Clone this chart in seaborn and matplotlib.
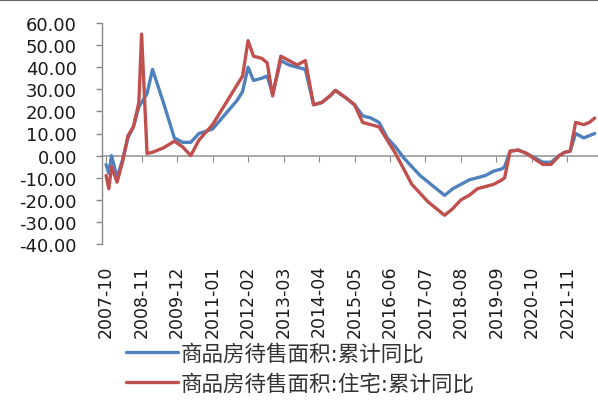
import pandas as pd
import matplotlib
matplotlib.use("Agg")
import matplotlib.pyplot as plt
from matplotlib.lines import Line2D
import seaborn as sns

# data (month, % yoy)
months = ["2007-10", "2007-11", "2007-12", "2008-02", "2008-04", "2008-06", "2008-08",
          "2008-10", "2008-11", "2009-01", "2009-03", "2009-07", "2009-11", "2010-02",
          "2010-05", "2010-08", "2011-01", "2011-10", "2011-12", "2012-02", "2012-04",
          "2012-07", "2012-09", "2012-11", "2013-02", "2013-05", "2013-08", "2013-11",
          "2014-02", "2014-05", "2014-08", "2014-10", "2015-02", "2015-05", "2015-08",
          "2015-11", "2016-02", "2016-05", "2016-08", "2016-11", "2017-02", "2017-05",
          "2017-08", "2017-11", "2018-02", "2018-05", "2018-08", "2018-11", "2019-02",
          "2019-05", "2019-08", "2019-11", "2019-12", "2020-02", "2020-05", "2020-08",
          "2020-11", "2021-02", "2021-05", "2021-08", "2021-10", "2021-12", "2022-02",
          "2022-05", "2022-07", "2022-09"]
total_yoy = [-4, -8, 0, -10, -2, 8, 13,
             22, 24, 28, 39, 24, 8, 6,
             6, 10, 12, 25, 29, 40, 34,
             35, 36, 28, 43, 41, 40, 39,
             23, 24, 27, 29.5, 26, 23, 18,
             17, 15, 8, 4, -1, -5, -9,
             -12, -15, -18, -15, -13, -11, -10,
             -9, -7, -6, -5, 2, 2.5, 1,
             -1, -3, -3, 0, 1.5, 2, 10,
             8, 9, 10]
housing_yoy = [-9, -15, -5, -12, -3, 9, 13,
               24, 55, 1, 1.5, 3.5, 6.5, 4,
               0, 7, 14, 32, 36, 52, 45,
               44, 42, 27, 45, 43, 41, 43,
               23, 24, 27, 29.5, 26, 23, 15,
               14, 13, 7, 1, -6, -13, -17,
               -21, -24, -27, -24, -20, -18, -15,
               -14, -13, -11, -10, 2, 2.5, 1,
               -1.5, -4, -4, 0, 1.5, 2, 15,
               14, 15, 17]

tick_months = ["2007-10", "2008-11", "2009-12", "2011-01", "2012-02", "2013-03", "2014-04",
               "2015-05", "2016-06", "2017-07", "2018-08", "2019-09", "2020-10", "2021-11"]
labels = ["商品房待售面积:累计同比", "商品房待售面积:住宅:累计同比"]

start = pd.Period("2007-10", freq="M")
x = [(pd.Period(m, freq="M") - start).n for m in months]
xt = [(pd.Period(m, freq="M") - start).n for m in tick_months]

sns.set_style("white")
plt.rcParams["font.family"] = ["DejaVu Sans", "Noto Sans CJK SC"]

fig = plt.figure(figsize=(5.98, 4.02), dpi=100)
ax = fig.add_axes([102 / 598, 1 - 245 / 402, 496 / 598, 221 / 402])

sns.lineplot(x=x, y=total_yoy, ax=ax, color="#4f81bd", linewidth=2.4, label=labels[0])
sns.lineplot(x=x, y=housing_yoy, ax=ax, color="#c0504d", linewidth=2.4, label=labels[1])

ax.set_xlim(-1.5, 180.2)
ax.set_ylim(-40, 60)
ax.set_yticks(range(-40, 61, 10))
ax.set_yticklabels([f"{v:.2f}" for v in range(-40, 61, 10)])
ax.tick_params(axis="y", left=True, length=4, color="#888888", width=1,
               labelsize=13, labelcolor="#1a1a1a", pad=14)

for s in ["top", "right", "bottom"]:
    ax.spines[s].set_visible(False)
ax.spines["left"].set_color("#888888")
ax.spines["left"].set_linewidth(1)

# tick labels at the bottom
ax.set_xticks(xt)
ax.set_xticklabels(tick_months, rotation=90)
ax.tick_params(axis="x", bottom=False, labelsize=12.5, labelcolor="#1a1a1a", pad=11)

# zero line with small ticks (axis crosses at 0)
zero = ax.secondary_xaxis(0.4)
zero.set_xticks(xt)
zero.tick_params(axis="x", labelbottom=False, length=4, color="#888888", direction="out")
zero.spines["bottom"].set_color("#999999")
zero.spines["bottom"].set_linewidth(1.2)

ax.get_legend().remove()
handles, labs = ax.get_legend_handles_labels()
fig.legend(handles, labs, loc="upper left", bbox_to_anchor=(126 / 598, 1 - 344 / 402),
           frameon=False, fontsize=15.5, handlelength=2.4, handletextpad=0.12,
           labelspacing=0.4, borderpad=0, borderaxespad=0, labelcolor="#333333")

fig.add_artist(Line2D([0, 1], [0.997, 0.997], transform=fig.transFigure,
                      color="#666666", linewidth=1.5))

fig.savefig("out.png", dpi=100)
